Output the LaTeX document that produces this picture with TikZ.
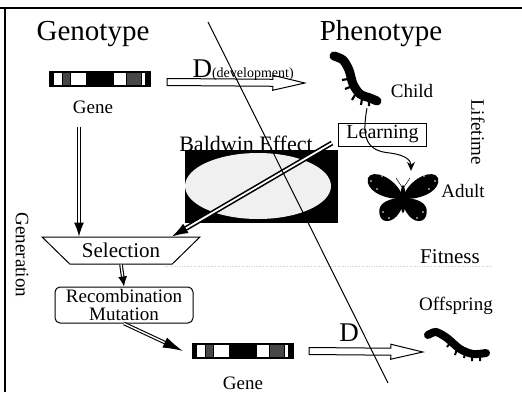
\documentclass[tikz,border=0pt]{standalone}
\usepackage{fontspec}
\setmainfont{Liberation Serif}
\usetikzlibrary{shapes.geometric,arrows.meta,positioning,calc}

\colorlet{speckle}{black!72}
\newcommand\fs[1]{\fontsize{#1}{#1}\selectfont}

% hollow block arrow from #1 to #2
\newcommand\blockarrow[2]{%
  \draw[line width=1pt, fill=white, line join=miter]
    let \p1=(#1), \p2=(#2),
        \n1={atan2(\y2-\y1,\x2-\x1)},
        \n2={veclen(\x2-\x1,\y2-\y1)}
    in [shift={(\p1)}, rotate=\n1]
    (0,-3.5) -- ({\n2-32},-3.5) -- ({\n2-32},-7.5) -- (\n2,0)
    -- ({\n2-32},7.5) -- ({\n2-32},3.5) -- (0,3.5) -- cycle;}

\tikzset{
  genebar/.style={draw, line width=1.2pt, minimum width=101, minimum height=14,
    inner sep=0, path picture={
      \foreach \a/\b/\c in {0/.04/black, .13/.21/speckle, .37/.63/black,
                            .76/.91/speckle, .95/1/black}
        \fill[\c] ($(path picture bounding box.south west)!\a!(path picture bounding box.south east)$)
          rectangle ($(path picture bounding box.north west)!\b!(path picture bounding box.north east)$);
      \foreach \a in {.13,.21,.37,.63,.76,.91}
        \draw[line width=0.8pt] ($(path picture bounding box.south west)!\a!(path picture bounding box.south east)$)
          -- ($(path picture bounding box.north west)!\a!(path picture bounding box.north east)$);
    }},
  dbl/.style={double, double distance=1.4pt, line width=1.1pt,
    -{Latex[length=14pt,width=10pt]}},
  lbl/.style={font=\fs{19}},
  title/.style={font=\fs{29}}
}

\begin{document}
\begin{tikzpicture}[x=1pt, y=-1pt]
  \useasboundingbox (0,0) rectangle (522,392);
  % frame
  \draw[line width=1.5pt] (0,8) -- (522,8);
  \draw[line width=1.5pt] (5,8) -- (5,392);

  % headings
  \node[title, anchor=base] (geno) at (93,40) {Genotype};
  \node[title, anchor=base] (pheno) at (381,40) {Phenotype};

  % genes
  \node[genebar] (gene1) at (100,79) {};
  \node[lbl, anchor=base] (genelbl1) at (93,113) {Gene};
  \node[genebar] (gene2) at (243,351) {};
  \node[lbl, anchor=base] (genelbl2) at (243,389) {Gene};

  % child caterpillar
  \node[minimum width=46, minimum height=52, inner sep=0] (child) at (355,78) {};
  \draw[line width=9pt, line cap=round] plot[smooth] coordinates
    {(334,56) (343,60) (349,70) (353,84) (360,94) (370,98) (377,101)};
  \draw[line width=2.2pt] (348,79) -- (342,80) (350,87) -- (345,89) (355,95) -- (352,100)
    (362,99) -- (361,105) (369,101) -- (369,106);
  \node[lbl, anchor=base] (childlbl) at (412,97) {Child};

  % adult butterfly
  \node[minimum width=70, minimum height=50, inner sep=0] (adult) at (403,197) {};
  \foreach \s in {1,-1} {
    \begin{scope}[shift={(adult.center)}, xscale=\s]
      \fill (-1,-3) .. controls (-10,-21) and (-31,-28) .. (-35,-19)
        .. controls (-38,-8) and (-22,2) .. (-2,2) -- cycle;
      \fill (-2,1) .. controls (-21,2) and (-26,10) .. (-23,19)
        .. controls (-20,28) and (-6,25) .. (-1,10) -- cycle;
      \foreach \p in {(-32,-16),(-26,-8),(-21,-21),(-20,15),(-14,21)}
        \fill[white] \p circle (0.8);
      \draw[line width=0.5pt] (-1,-10) -- (-7,-19);
    \end{scope}
  }
  \fill (adult.center) ++(0,2) ellipse [x radius=2.5, y radius=14];
  \node[lbl, anchor=base] (adultlbl) at (463,197) {Adult};

  % offspring caterpillar
  \node[minimum width=62, minimum height=28, inner sep=0] (offspring) at (456,344) {};
  \draw[line width=8pt, line cap=round] plot[smooth] coordinates
    {(428,335) (436,332) (447,338) (460,349) (473,354) (486,353)};
  \draw[line width=2pt] (450,343) -- (447,347) (457,349) -- (455,355) (465,353) -- (464,358)
    (472,356) -- (472,361) (480,357) -- (480,361);
  \node[lbl, anchor=base] (offlbl) at (456,310) {Offspring};

  % side labels
  \node[lbl, rotate=-90] (lifetime) at (478,132) {Lifetime};
  \node[lbl, rotate=-90] (generation) at (22,255) {Generation};
  \node[font=\fs{21}, anchor=base] (fitness) at (450,263) {Fitness};
  \draw[gray!40, dotted] (165,266) -- (493,266);

  % development
  \blockarrow{[xshift=16,yshift=-3]gene1.east}{[xshift=-27,yshift=-5]child.west}
  \node[title, anchor=base west, font=\fs{27}] (d1) at (189,77) {D{\fs{14}(development)}};
  \blockarrow{[xshift=15]gene2.east}{[xshift=-2,yshift=-8]offspring.west}
  \node[font=\fs{27}, anchor=base] (d2) at (349,341) {D};

  % learning
  \node[draw, line width=1pt, minimum width=88, minimum height=23, inner sep=2,
        font=\fs{20}] (learn) at (382.5,134.5) {Learning};
  \draw[line width=1pt, -{Stealth[length=9pt,width=8pt]}]
    ([xshift=12,yshift=-4]child.south) .. controls (361,140) and (368,151) .. (390,153)
    .. controls (405,155) and (411,160) .. ([xshift=8,yshift=1]adult.north);

  % baldwin effect
  \node[fill=black, minimum width=153, minimum height=73, inner sep=0] (baldwin) at (261.5,186.5) {};
  \fill[black!6] (258,186) ellipse [x radius=73, y radius=33];
  \node[font=\fs{22}, anchor=base] (baldlbl) at (246,151) {Baldwin Effect};

  % selection and variation
  \node[trapezium, draw, line width=1pt, trapezium left angle=145, trapezium right angle=145,
        trapezium stretches=true, minimum width=158, minimum height=27, inner sep=0,
        font=\fs{21}] (select) at (121,250.5) {Selection};
  \node[draw, line width=1pt, rounded corners=5, minimum width=138, minimum height=36,
        inner sep=0, align=center, font=\fontsize{19}{18}\selectfont] (recomb) at (124,305)
        {Recombination\\Mutation};

  \coordinate (g1a) at ([xshift=-14,yshift=-10]genelbl1.south);
  \draw[dbl] (g1a) -- (g1a |- select.north);
  \draw[dbl, -{Latex[length=10pt,width=9pt]}] (select.south) -- (recomb.north);
  \draw[dbl, -{Latex[length=20pt,width=11pt]}] (recomb.south) -- ([xshift=-9]gene2.west);
  \coordinate (bstart) at (332,143);
  \draw[dbl, double distance=1.8pt, line width=1.6pt, -{Latex[length=16pt,width=11pt]}]
    (bstart) -- ([xshift=51]select.north);

  % genotype / phenotype divide
  \draw[line width=1pt] (208,22) -- (388,383);
\end{tikzpicture}
\end{document}
